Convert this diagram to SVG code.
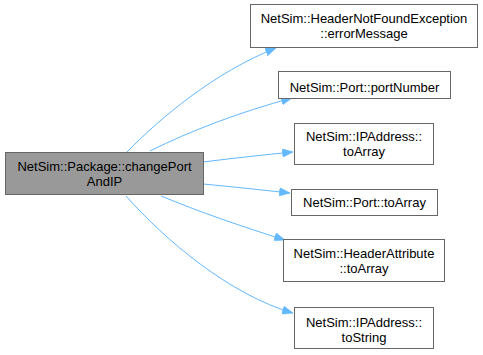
<svg xmlns="http://www.w3.org/2000/svg" width="483" height="355" viewBox="0 0 483 355">
  <style>
    .node rect { fill: #ffffff; stroke: #666666; stroke-width: 1; }
    .node.root rect { fill: #999999; }
    .node text { font-family: "Liberation Sans", Arial, sans-serif; font-size: 13px; fill: #000000; text-anchor: middle; }
    .edge { fill: none; stroke: #63b8ff; stroke-width: 1; marker-end: url(#arrow); }
  </style>
  <defs>
    <marker id="arrow" viewBox="0 0 10 8" refX="10" refY="4" markerWidth="11" markerHeight="8.5" markerUnits="userSpaceOnUse" orient="auto">
      <path d="M0,0 L10,4 L0,8 Z" fill="#63b8ff" stroke="#63b8ff" stroke-width="0.5"/>
    </marker>
  </defs>

  <!-- call edges -->
  <g id="edges">
    <path class="edge" d="M127,152 C160,118 215,72 276,48"/>
    <path class="edge" d="M150,151 C190,131 240,112 292,98"/>
    <path class="edge" d="M203,162 C235,158 262,155 293,152"/>
    <path class="edge" d="M203,184 C235,187 262,190 290,193"/>
    <path class="edge" d="M161,196 C200,212 240,226 285,240"/>
    <path class="edge" d="M126,196 C165,240 230,295 293,313"/>
  </g>

  <g id="node-changePortAndIP" class="node root">
    <rect x="5.5" y="152.5" width="198" height="42"/>
    <text x="104.5" y="170.5">NetSim::Package::changePort</text>
    <text x="104.5" y="185.5">AndIP</text>
  </g>

  <g id="node-errorMessage" class="node">
    <rect x="250.5" y="4.5" width="227" height="43"/>
    <text x="364" y="23">NetSim::HeaderNotFoundException</text>
    <text x="364" y="38">::errorMessage</text>
  </g>

  <g id="node-portNumber" class="node">
    <rect x="278.5" y="71.5" width="172" height="27"/>
    <text x="364.5" y="91.5">NetSim::Port::portNumber</text>
  </g>

  <g id="node-IPAddress-toArray" class="node">
    <rect x="294.5" y="123.5" width="139" height="41"/>
    <text x="364" y="141">NetSim::IPAddress::</text>
    <text x="364" y="156">toArray</text>
  </g>

  <g id="node-Port-toArray" class="node">
    <rect x="291.5" y="189.5" width="146" height="26"/>
    <text x="364.5" y="207">NetSim::Port::toArray</text>
  </g>

  <g id="node-HeaderAttribute-toArray" class="node">
    <rect x="283.5" y="239.5" width="161" height="42"/>
    <text x="364" y="258">NetSim::HeaderAttribute</text>
    <text x="364" y="273">::toArray</text>
  </g>

  <g id="node-IPAddress-toString" class="node">
    <rect x="294.5" y="307.5" width="139" height="41"/>
    <text x="364" y="326.5">NetSim::IPAddress::</text>
    <text x="364" y="341.5">toString</text>
  </g>
</svg>
